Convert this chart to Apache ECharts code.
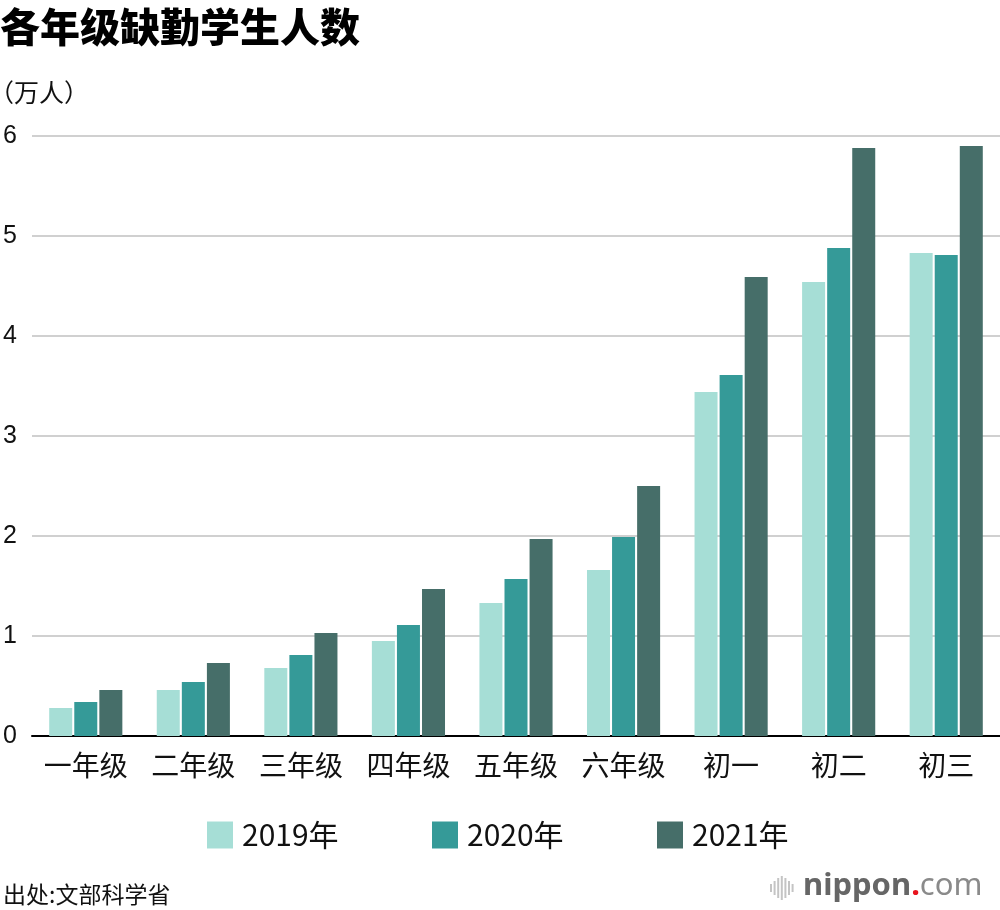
<!DOCTYPE html>
<html>
<head>
<meta charset="utf-8">
<script src="https://cdn.jsdelivr.net/npm/echarts@6/dist/echarts.min.js"></script>
<style>
html,body{margin:0;padding:0;background:#fff;}
#chart{width:1000px;height:910px;}
</style>
</head>
<body>
<div id="chart"></div>
<script>
const categories = ['一年级','二年级','三年级','四年级','五年级','六年级','初一','初二','初三'];
const seriesNames = ['2019年','2020年','2021年'];
const values2019 = [0.28, 0.46, 0.68, 0.95, 1.33, 1.66, 3.44, 4.54, 4.83];
const values2020 = [0.34, 0.54, 0.81, 1.11, 1.57, 1.99, 3.61, 4.88, 4.81];
const values2021 = [0.46, 0.73, 1.03, 1.47, 1.97, 2.50, 4.59, 5.88, 5.90];
const yTicks = [0, 1, 2, 3, 4, 5, 6];
const colors = ['#a6ded6', '#359a98', '#466e69'];

const chart = echarts.init(document.getElementById('chart'), null, {renderer: 'canvas'});
const CJK = '"Noto Sans CJK SC", "Noto Sans", sans-serif';

const logoBars = [8, 14, 20, 24, 20, 14, 8];
const logoGraphics = logoBars.map((h, i) => ({
  type: 'rect',
  shape: {x: 770 + i * 3.6, y: 888 - h / 2, width: 2, height: h},
  style: {fill: '#c4c4c4'}
}));

const option = {
  backgroundColor: '#fff',
  animation: false,
  color: colors,
  grid: {left: 32, right: 0, top: 136, bottom: 174, containLabel: false},
  legend: seriesNames.map((n, i) => ({
    data: [n],
    left: [207, 432, 657][i],
    top: 820,
    padding: 0,
    itemWidth: 26,
    itemHeight: 27,
    itemGap: 10,
    icon: 'rect',
    textStyle: {fontFamily: CJK, fontSize: 30, color: '#111', padding: [0, 0, 0, 4]}
  })),
  xAxis: {
    type: 'category',
    data: categories,
    axisLine: {lineStyle: {color: '#000', width: 2}},
    axisTick: {show: false},
    axisLabel: {fontFamily: CJK, fontSize: 28, color: '#111', margin: 15, interval: 0}
  },
  yAxis: {
    type: 'value',
    min: yTicks[0],
    max: yTicks[yTicks.length - 1],
    interval: 1,
    axisLine: {show: false},
    axisTick: {show: false},
    axisLabel: {
      fontFamily: '"Liberation Sans", Arial, sans-serif',
      fontSize: 25, color: '#111', align: 'left', margin: 29,
      formatter: v => yTicks.includes(v) ? String(v) : ''
    },
    splitLine: {lineStyle: {color: '#d0d0d0', width: 2}}
  },
  series: [values2019, values2020, values2021].map((d, i) => ({
    name: seriesNames[i],
    type: 'bar',
    data: d,
    barWidth: 23,
    barGap: '9%',
    itemStyle: {color: colors[i]}
  })),
  graphic: [
    {type: 'text', x: 0, y: 27, style: {text: '各年级缺勤学生人数', font: '900 40px ' + CJK, fill: '#000', textVerticalAlign: 'middle'}},
    {type: 'text', x: -11, y: 92, style: {text: '（万人）', font: '25px ' + CJK, fill: '#111', textVerticalAlign: 'middle'}},
    {type: 'text', x: 3, y: 894, style: {text: '出处:文部科学省', font: '23px ' + CJK, fill: '#111', textVerticalAlign: 'middle'}},
    {type: 'text', x: 803, y: 886, style: {
      text: '{a|nippon}{b|.}{c|com}',
      textVerticalAlign: 'middle',
      rich: {
        a: {fontFamily: '"Noto Sans", sans-serif', fontWeight: 'bold', fontSize: 31, fill: '#666'},
        b: {fontFamily: '"Noto Sans", sans-serif', fontWeight: 'bold', fontSize: 31, fill: '#e8141e'},
        c: {fontFamily: '"Noto Sans", sans-serif', fontWeight: 'normal', fontSize: 31, fill: '#8a8a8a'}
      }
    }},
    ...logoGraphics
  ]
};
chart.setOption(option);
</script>
</body>
</html>
